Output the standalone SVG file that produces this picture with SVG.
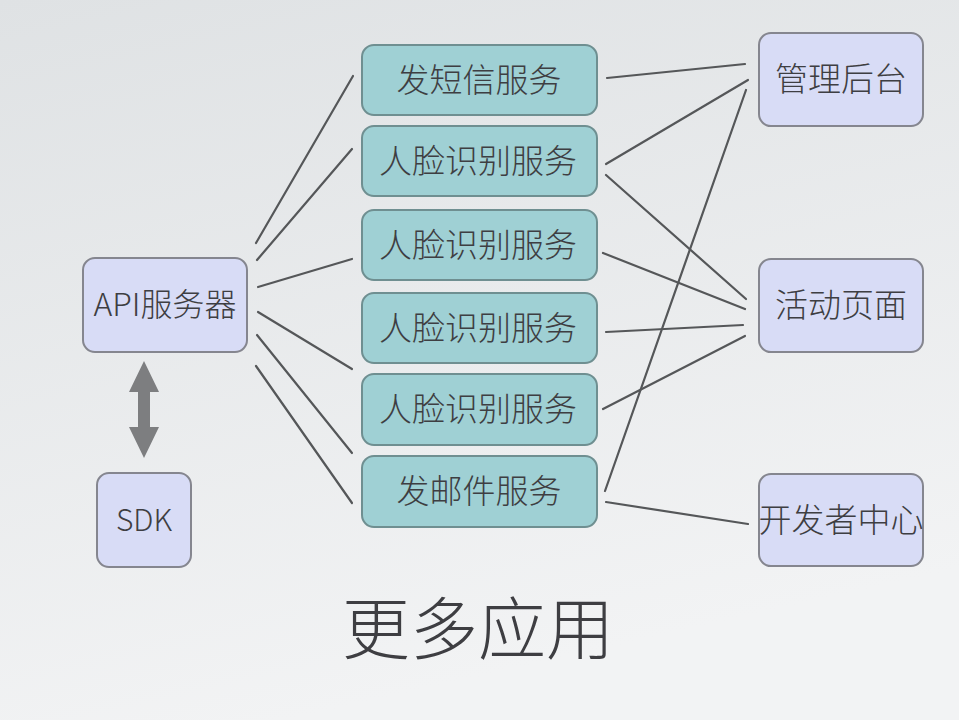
<svg xmlns="http://www.w3.org/2000/svg" width="959" height="720" viewBox="0 0 959 720">
<defs>
<linearGradient id="bg" x1="0" y1="0" x2="0.3" y2="1">
<stop offset="0" stop-color="#dfe2e4"/>
<stop offset="1" stop-color="#f2f3f4"/>
</linearGradient>
<style>
.svc rect{fill:#9fd0d4;stroke:#6f8f91;stroke-width:2}
.end rect{fill:#d8dcf6;stroke:#85868f;stroke-width:2}
text{font-family:"Noto Sans CJK SC","Noto Sans",sans-serif;font-weight:300;fill:#3e3e42;text-anchor:middle}
.t33{font-size:33px}
.conn line{stroke:#555759;stroke-width:2.2;stroke-linecap:round}
</style>
</defs>
<rect width="959" height="720" fill="url(#bg)"/>
<g id="connectors" class="conn">
<line x1="256" y1="243" x2="353" y2="76"/>
<line x1="257" y1="260" x2="352" y2="149"/>
<line x1="258" y1="287" x2="352" y2="259"/>
<line x1="258" y1="312" x2="352" y2="369"/>
<line x1="257" y1="335" x2="352" y2="453"/>
<line x1="256" y1="366" x2="352" y2="503"/>
<line x1="607" y1="78" x2="745" y2="64"/>
<line x1="606" y1="164" x2="748" y2="80"/>
<line x1="606" y1="175" x2="746" y2="299"/>
<line x1="603" y1="253" x2="745" y2="309"/>
<line x1="606" y1="332" x2="743" y2="325"/>
<line x1="603" y1="409" x2="745" y2="336"/>
<line x1="605" y1="491" x2="746" y2="90"/>
<line x1="606" y1="502" x2="748" y2="524"/>
<polygon id="dbl-arrow" points="144,361 159,392 150,392 150,427 159,427 144,458 129,427 138,427 138,392 129,392" fill="#7d7e80"/>
</g>
<g id="api" class="end"><rect x="83" y="258" width="164" height="94" rx="12"/><text x="165" y="316" font-size="32">API服务器</text></g>
<g id="sdk" class="end"><rect x="97" y="473" width="94" height="94" rx="12"/><text x="144" y="531" font-size="30">SDK</text></g>
<g id="svc1" class="svc"><rect x="362" y="45" width="235" height="70" rx="12"/><text class="t33" x="479" y="92">发短信服务</text></g>
<g id="svc2" class="svc"><rect x="362" y="126" width="235" height="70" rx="12"/><text class="t33" x="478" y="173">人脸识别服务</text></g>
<g id="svc3" class="svc"><rect x="362" y="210" width="235" height="70" rx="12"/><text class="t33" x="478" y="257">人脸识别服务</text></g>
<g id="svc4" class="svc"><rect x="362" y="293" width="235" height="70" rx="12"/><text class="t33" x="478" y="340">人脸识别服务</text></g>
<g id="svc5" class="svc"><rect x="362" y="374" width="235" height="71" rx="12"/><text class="t33" x="478" y="421">人脸识别服务</text></g>
<g id="svc6" class="svc"><rect x="362" y="456" width="235" height="71" rx="12"/><text class="t33" x="479" y="503">发邮件服务</text></g>
<g id="admin" class="end"><rect x="759" y="33" width="164" height="93" rx="12"/><text class="t33" x="841" y="91">管理后台</text></g>
<g id="activity" class="end"><rect x="759" y="259" width="164" height="93" rx="12"/><text class="t33" x="841" y="317">活动页面</text></g>
<g id="devcenter" class="end"><rect x="759" y="474" width="164" height="92" rx="12"/><text class="t33" x="841" y="532">开发者中心</text></g>
<text id="title" x="478" y="654" font-size="68">更多应用</text>
</svg>
